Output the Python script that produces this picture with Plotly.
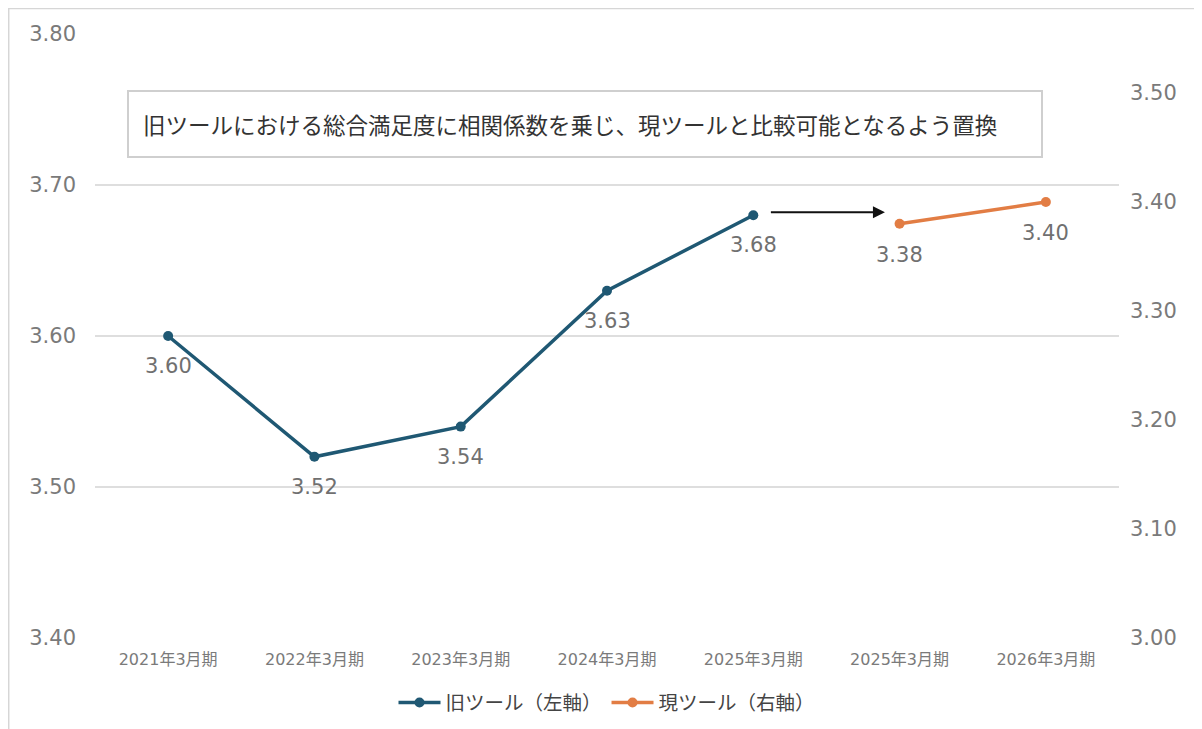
import plotly.graph_objects as go

categories = ["2021年3月期", "2022年3月期", "2023年3月期", "2024年3月期",
              "2025年3月期", "2025年3月期", "2026年3月期"]
old_idx = [0, 1, 2, 3, 4]
old_values = [3.60, 3.52, 3.54, 3.63, 3.68]
new_idx = [5, 6]
new_values = [3.38, 3.40]
left_ticks = [3.40, 3.50, 3.60, 3.70, 3.80]
right_ticks = [3.00, 3.10, 3.20, 3.30, 3.40, 3.50]
note_text = "旧ツールにおける総合満足度に相関係数を乗じ、現ツールと比較可能となるよう置換"

NUM = "'DejaVu Sans', 'Noto Sans CJK JP', sans-serif"
JP = "'Noto Sans CJK JP', sans-serif"
BLUE = "#1f5873"
ORANGE = "#e27d44"
LABEL = "#707070"

fig = go.Figure()
fig.add_trace(go.Scatter(
    x=old_idx, y=old_values, name="旧ツール（左軸）", mode="lines+markers",
    line=dict(color=BLUE, width=3.5), marker=dict(size=10, color=BLUE), yaxis="y"))
fig.add_trace(go.Scatter(
    x=new_idx, y=new_values, name="現ツール（右軸）", mode="lines+markers",
    line=dict(color=ORANGE, width=3.5), marker=dict(size=10, color=ORANGE), yaxis="y2"))

# data labels below the points
for xi, v in zip(old_idx, old_values):
    fig.add_annotation(x=xi, y=v, xref="x", yref="y", text=f"{v:.2f}",
                       showarrow=False, yshift=-30,
                       font=dict(size=21, color=LABEL, family=NUM))
for xi, v in zip(new_idx, new_values):
    fig.add_annotation(x=xi, y=v, xref="x", yref="y2", text=f"{v:.2f}",
                       showarrow=False, yshift=-31,
                       font=dict(size=21, color=LABEL, family=NUM))

# arrow from old 2025 to new 2025
fig.add_annotation(x=4.9, y=3.682, ax=4.11, ay=3.682, xref="x", yref="y",
                   axref="x", ayref="y", showarrow=True, arrowhead=2,
                   arrowsize=1.2, arrowwidth=2, arrowcolor="#111111", text="")

# note box
fig.add_annotation(x=0.4785, y=0.851, xref="paper", yref="paper", text=note_text,
                   xanchor="center", yanchor="middle",
                   showarrow=False, align="left", width=884, height=36, borderpad=14,
                   bordercolor="#cfcfcf", borderwidth=2, bgcolor="white",
                   font=dict(size=22.5, color="#333333", family=JP))

# outer border
fig.add_shape(type="rect", xref="paper", yref="paper",
              x0=-0.0845, x1=1.077, y0=-0.3, y1=1.0425,
              line=dict(color="#d6d6d6", width=2), layer="below")

fig.update_layout(
    width=1194, height=721,
    margin=dict(l=87, r=83, t=26, b=91, autoexpand=False),
    plot_bgcolor="white", paper_bgcolor="white",
    font=dict(family=NUM, color=LABEL),
    showlegend=True,
    legend=dict(orientation="h", x=0.5, xanchor="center", y=-0.075, yanchor="top",
                font=dict(size=19.5, color="#444444", family=JP),
                itemwidth=42, traceorder="normal"),
    xaxis=dict(range=[-0.5, 6.5], tickmode="array", tickvals=list(range(len(categories))),
               ticktext=categories, tickfont=dict(size=16, color="#7a7a7a", family=NUM),
               showgrid=False, zeroline=False, showline=False, ticks="",
               ticklabelstandoff=10, automargin=False),
    yaxis=dict(range=[3.40, 3.80], tickvals=left_ticks,
               ticktext=[f"{v:.2f}" for v in left_ticks],
               tickfont=dict(size=21, color="#7a7a7a", family=NUM),
               showgrid=True, gridcolor="#dedede", gridwidth=1.5, zeroline=False,
               showline=False, ticklabelstandoff=18, automargin=False),
    yaxis2=dict(range=[3.00, 3.00 + 0.4 * 604 / 436], overlaying="y", side="right",
                tickvals=right_ticks, ticktext=[f"{v:.2f}" for v in right_ticks],
                tickfont=dict(size=21, color="#7a7a7a", family=NUM),
                showgrid=False, zeroline=False, showline=False, ticklabelstandoff=10,
                automargin=False),
)

fig.write_html("out.html")
